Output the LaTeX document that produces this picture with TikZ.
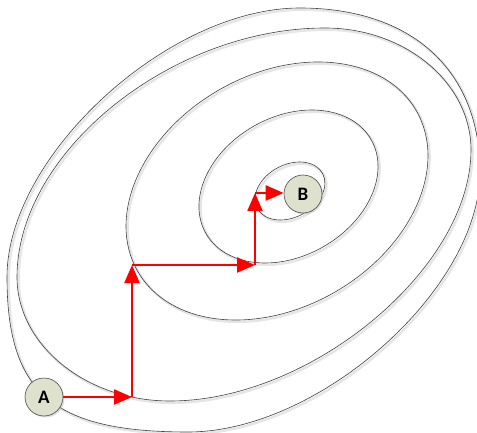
\documentclass[tikz,border=0pt]{standalone}
\usepackage{fontspec}
\setmainfont{Carlito}
\usetikzlibrary{arrows.meta, shadows}

\definecolor{nodefill}{RGB}{222,226,205}

\begin{document}
\begin{tikzpicture}[x=1pt, y=-1pt,
    contour/.style={draw=black!75, line width=0.6pt,
        preaction={draw=black!10, line width=2.4pt, transform canvas={shift={(1.6pt,-1.8pt)}}}},
    place/.style={circle, draw=black!70, line width=0.6pt, fill=nodefill, minimum size=38pt, inner sep=0pt,
        font=\fontsize{19}{19}\selectfont\bfseries,
        drop shadow={shadow xshift=1.5pt, shadow yshift=-1.5pt, fill=black!25}},
    hop/.style={draw=red, line width=2.3pt, -{Triangle[length=18pt, width=15pt]}}
]
    \useasboundingbox (0,0) rectangle (477,433);

    % Contour lines, outer to inner
    \path[contour] (7,277) .. controls (7,156) and (168,8) .. (300,8)
        .. controls (411.6,8) and (480,70.3) .. (480,172)
        .. controls (480,289) and (319.4,432) .. (188,432)
        .. controls (53,432) and (7,393) .. cycle;
    \path[contour] (17,277) .. controls (17,152.5) and (171,28) .. (325,28)
        .. controls (405.3,28) and (471,82.9) .. (471,150)
        .. controls (471,268) and (311.5,401) .. (170,401)
        .. controls (86,401) and (17,345) .. cycle;
    \path[contour, rotate around={30:(277,191)}] (277,191) ellipse (160.8 and 116.5);
    \path[contour, rotate around={29.4:(288.5,186.5)}] (288.5,186.5) ellipse (95 and 69.6);
    \path[contour, rotate around={28:(290,191)}] (290,191) ellipse (37 and 26.3);

    % Start and goal
    \node[place] (A) at (44,397) {A};
    \node[place] (B) at (303,194) {B};

    % Corners of the path
    \coordinate (c1) at (132,397);
    \coordinate (c2) at (132,265);
    \coordinate (c3) at (255,265);
    \coordinate (c4) at (255,193);

    \draw[hop] (A) -- (c1);
    \draw[hop] (c1) -- (c2);
    \draw[hop] (c2) -- (c3);
    \draw[hop] (c3) -- (c4);
    \draw[hop] (c4) -- (B.west |- c4);
\end{tikzpicture}
\end{document}
